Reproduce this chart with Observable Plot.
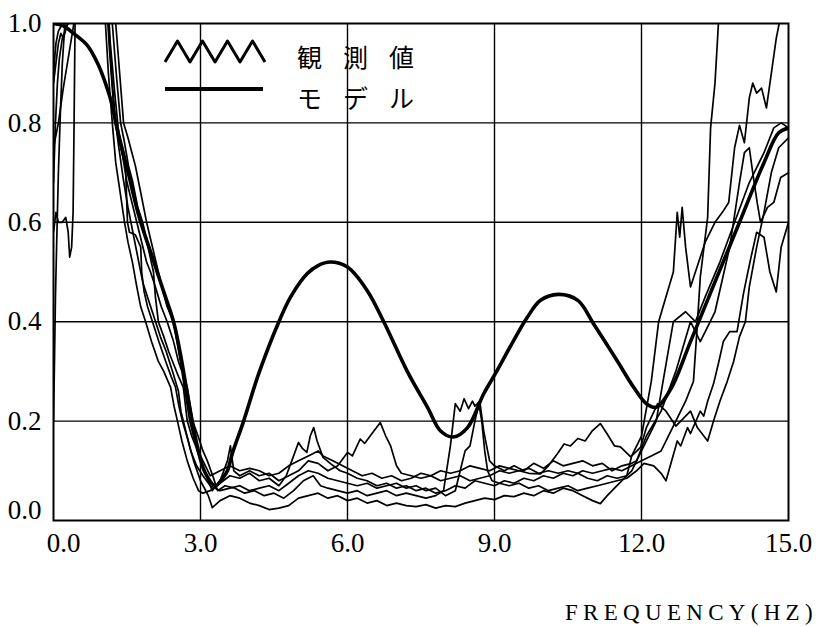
<!DOCTYPE html>
<html>
<head>
<meta charset="utf-8">
<script src="https://cdn.jsdelivr.net/npm/d3@7"></script>
<script src="https://cdn.jsdelivr.net/npm/@observablehq/plot@0.6"></script>
<style>
  html, body { margin: 0; padding: 0; background: #fff; }
  #wrap { position: relative; width: 821px; height: 627px; overflow: hidden; }
  #legend { position: absolute; left: 0; top: 0; }
  .lt { position: absolute; font-family: "Noto Sans CJK JP", sans-serif; font-size: 25px; letter-spacing: 21px; color: #000; line-height: 1; white-space: nowrap; }
  #caption { position: absolute; left: 565px; top: 601px; font-family: "Liberation Serif", "Times New Roman", "DejaVu Serif", serif; font-size: 23px; letter-spacing: 5.3px; color: #000; line-height: 1; white-space: nowrap; }
  svg text { font-family: "Liberation Serif", "Times New Roman", "DejaVu Serif", serif; }
</style>
</head>
<body>
<div id="wrap"></div>
<script>
// ---- data ----
const xTicks = [0, 3, 6, 9, 12, 15];
const yTicks = [0, 0.2, 0.4, 0.6, 0.8, 1.0];
const legendLabels = ["観測値", "モデル"];
const axisTitle = "FREQUENCY(HZ)";

const model = [[0,1.0],[0.2,0.995],[0.41,0.98],[0.69,0.956],[0.9,0.92],[1.06,0.88],[1.2,0.835],[1.27,0.8],[1.5,0.71],[1.75,0.61],[2.04,0.523],[2.25,0.46],[2.45,0.40],[2.6,0.33],[2.73,0.255],[2.94,0.147],[3.1,0.095],[3.3,0.07],[3.45,0.085],[3.55,0.1],[3.65,0.135],[3.88,0.2],[4.19,0.296],[4.6,0.40],[4.84,0.45],[5.18,0.497],[5.4,0.513],[5.65,0.52],[6.0,0.51],[6.4,0.463],[6.74,0.40],[7.22,0.30],[7.63,0.228],[7.9,0.18],[8.16,0.168],[8.45,0.187],[8.78,0.255],[9.02,0.296],[9.39,0.362],[9.67,0.409],[9.94,0.443],[10.3,0.455],[10.7,0.443],[11.02,0.396],[11.5,0.322],[11.84,0.268],[12.1,0.235],[12.3,0.228],[12.6,0.265],[13.0,0.36],[13.5,0.48],[14.0,0.6],[14.5,0.72],[14.8,0.78],[15.0,0.79]];

const obs1 = [[0,0.68],[0.04,0.8],[0.08,0.88],[0.12,0.93],[0.18,0.97],[0.25,0.99],[0.3,1.0],[0.36,1.08],[0.45,1.3],[0.9,1.3],[1.0,1.1],[1.06,1.0],[1.12,0.9],[1.2,0.8],[1.27,0.72],[1.36,0.66],[1.45,0.6],[1.52,0.56],[1.61,0.52],[1.7,0.47],[1.78,0.43],[1.88,0.4],[2.0,0.36],[2.14,0.32],[2.25,0.3],[2.39,0.268],[2.46,0.23],[2.53,0.2],[2.62,0.16],[2.73,0.12],[2.85,0.085],[2.96,0.06],[3.05,0.055],[3.2,0.06],[3.4,0.075],[3.6,0.09],[3.8,0.085],[4.0,0.095],[4.2,0.08],[4.4,0.085],[4.6,0.07],[4.75,0.09],[4.9,0.13],[5.0,0.157],[5.08,0.145],[5.17,0.137],[5.24,0.17],[5.31,0.187],[5.38,0.16],[5.5,0.127],[5.66,0.114],[5.85,0.1],[6.0,0.095],[6.2,0.085],[6.4,0.08],[6.6,0.07],[6.8,0.075],[7.0,0.065],[7.2,0.07],[7.4,0.06],[7.6,0.065],[7.8,0.055],[8.0,0.06],[8.2,0.07],[8.4,0.065],[8.6,0.08],[8.8,0.075],[9.0,0.07],[9.2,0.08],[9.4,0.075],[9.6,0.085],[9.8,0.08],[10.0,0.09],[10.2,0.085],[10.4,0.095],[10.6,0.09],[10.8,0.1],[11.0,0.095],[11.2,0.1],[11.4,0.105],[11.6,0.1],[11.8,0.11],[12.0,0.12],[12.2,0.13],[12.4,0.14],[12.7,0.2],[12.9,0.24],[13.06,0.28],[13.13,0.38],[13.2,0.49],[13.35,0.61],[13.41,0.79],[13.5,0.88],[13.57,1.0],[13.65,1.2],[13.8,1.4],[15,1.4]];

const obs2 = [[0,0.9],[0.05,0.96],[0.1,0.985],[0.16,0.995],[0.22,1.02],[0.3,1.2],[0.5,1.4],[0.95,1.4],[1.05,1.12],[1.12,1.0],[1.2,0.88],[1.27,0.8],[1.37,0.75],[1.47,0.71],[1.51,0.6],[1.55,0.58],[1.67,0.575],[1.78,0.55],[1.8,0.5],[1.85,0.46],[1.92,0.43],[2.02,0.4],[2.15,0.36],[2.29,0.32],[2.4,0.29],[2.49,0.268],[2.56,0.23],[2.63,0.2],[2.75,0.16],[2.86,0.12],[3.0,0.08],[3.16,0.05],[3.24,0.026],[3.4,0.04],[3.6,0.05],[3.8,0.045],[4.0,0.035],[4.2,0.03],[4.4,0.022],[4.6,0.025],[4.8,0.03],[5.0,0.045],[5.2,0.05],[5.4,0.055],[5.6,0.045],[5.8,0.05],[6.0,0.04],[6.2,0.045],[6.4,0.035],[6.6,0.04],[6.8,0.03],[7.0,0.035],[7.2,0.03],[7.4,0.028],[7.6,0.032],[7.8,0.025],[8.0,0.03],[8.2,0.028],[8.4,0.035],[8.6,0.04],[8.8,0.045],[9.0,0.042],[9.2,0.05],[9.4,0.048],[9.6,0.055],[9.8,0.05],[10.0,0.06],[10.2,0.055],[10.4,0.065],[10.6,0.06],[10.8,0.05],[11.0,0.04],[11.16,0.034],[11.3,0.05],[11.5,0.07],[11.7,0.09],[11.8,0.13],[12.0,0.17],[12.2,0.28],[12.35,0.4],[12.5,0.45],[12.65,0.5],[12.73,0.62],[12.78,0.57],[12.83,0.63],[12.9,0.55],[13.0,0.47],[13.1,0.5],[13.3,0.56],[13.5,0.6],[13.65,0.62],[13.78,0.64],[13.9,0.75],[14.0,0.795],[14.1,0.76],[14.2,0.85],[14.27,0.88],[14.35,0.86],[14.45,0.87],[14.55,0.83],[14.65,0.9],[14.75,0.97],[14.85,1.02],[15,1.1]];

const obs3 = [[0,0.58],[0.05,0.62],[0.1,0.6],[0.18,0.6],[0.25,0.61],[0.3,0.58],[0.33,0.53],[0.37,0.55],[0.4,0.62],[0.42,0.8],[0.44,1.0],[0.47,1.3],[1.0,1.4],[1.15,1.1],[1.2,1.0],[1.28,0.9],[1.37,0.8],[1.45,0.76],[1.53,0.714],[1.62,0.68],[1.72,0.63],[1.82,0.6],[1.93,0.55],[2.04,0.5],[2.08,0.45],[2.14,0.4],[2.25,0.37],[2.35,0.34],[2.43,0.32],[2.55,0.29],[2.65,0.268],[2.73,0.2],[2.82,0.17],[2.9,0.15],[3.0,0.12],[3.12,0.09],[3.24,0.06],[3.4,0.08],[3.55,0.12],[3.61,0.15],[3.68,0.1],[3.8,0.09],[4.0,0.1],[4.2,0.09],[4.4,0.095],[4.6,0.08],[4.8,0.09],[5.0,0.1],[5.2,0.12],[5.4,0.115],[5.6,0.1],[5.8,0.11],[6.0,0.137],[6.1,0.13],[6.26,0.164],[6.35,0.155],[6.5,0.175],[6.67,0.197],[6.78,0.17],[6.88,0.15],[7.0,0.11],[7.1,0.095],[7.3,0.09],[7.5,0.085],[7.7,0.09],[7.9,0.08],[8.1,0.085],[8.3,0.09],[8.5,0.08],[8.7,0.085],[8.9,0.09],[9.1,0.1],[9.3,0.095],[9.5,0.1],[9.7,0.105],[9.9,0.095],[10.1,0.1],[10.3,0.095],[10.5,0.1],[10.7,0.095],[10.9,0.085],[11.1,0.08],[11.3,0.09],[11.5,0.085],[11.7,0.09],[11.8,0.1],[12.0,0.14],[12.3,0.2],[12.65,0.4],[12.9,0.42],[13.1,0.4],[13.3,0.45],[13.6,0.52],[13.9,0.6],[14.2,0.68],[14.5,0.74],[14.7,0.79],[14.85,0.8],[15,0.79]];

const obs4 = [[0,0.75],[0.1,0.8],[0.2,0.87],[0.3,0.93],[0.4,0.99],[0.46,1.03],[0.55,1.3],[1.1,1.4],[1.2,1.1],[1.27,1.0],[1.35,0.9],[1.43,0.8],[1.52,0.77],[1.6,0.74],[1.67,0.714],[1.78,0.66],[1.9,0.6],[2.02,0.55],[2.14,0.5],[2.24,0.46],[2.32,0.43],[2.45,0.4],[2.52,0.36],[2.59,0.32],[2.66,0.29],[2.73,0.268],[2.79,0.23],[2.84,0.2],[2.95,0.17],[3.05,0.14],[3.14,0.12],[3.25,0.09],[3.35,0.06],[3.5,0.07],[3.7,0.065],[3.9,0.055],[4.1,0.06],[4.3,0.05],[4.5,0.055],[4.7,0.045],[4.9,0.06],[5.1,0.08],[5.3,0.09],[5.45,0.07],[5.6,0.065],[5.8,0.06],[6.0,0.055],[6.2,0.06],[6.4,0.05],[6.6,0.055],[6.8,0.06],[7.0,0.05],[7.2,0.055],[7.4,0.05],[7.6,0.045],[7.8,0.05],[7.96,0.06],[8.1,0.15],[8.2,0.235],[8.3,0.22],[8.38,0.245],[8.47,0.225],[8.55,0.24],[8.6,0.23],[8.7,0.24],[8.78,0.18],[8.9,0.12],[9.0,0.11],[9.2,0.1],[9.4,0.11],[9.6,0.1],[9.8,0.115],[10.0,0.105],[10.2,0.12],[10.4,0.11],[10.6,0.115],[10.8,0.12],[11.0,0.11],[11.2,0.115],[11.4,0.1],[11.6,0.11],[11.8,0.115],[11.9,0.12],[12.1,0.17],[12.4,0.22],[12.7,0.3],[13.0,0.4],[13.2,0.36],[13.5,0.42],[13.8,0.55],[14.0,0.68],[14.1,0.74],[14.2,0.75],[14.27,0.70],[14.36,0.64],[14.43,0.60],[14.57,0.63],[14.7,0.64],[14.84,0.69],[15,0.70]];

const obs5 = [[0,0.2],[0.02,0.32],[0.04,0.45],[0.07,0.58],[0.1,0.7],[0.14,0.82],[0.18,0.92],[0.22,0.98],[0.26,1.05],[0.32,1.3],[0.95,1.35],[1.08,1.05],[1.14,0.95],[1.23,0.83],[1.32,0.76],[1.42,0.69],[1.52,0.63],[1.62,0.58],[1.72,0.53],[1.82,0.48],[1.95,0.44],[2.05,0.41],[2.18,0.37],[2.3,0.34],[2.43,0.3],[2.55,0.26],[2.6,0.22],[2.7,0.18],[2.8,0.14],[2.92,0.11],[3.05,0.09],[3.2,0.07],[3.4,0.06],[3.6,0.065],[3.8,0.07],[4.0,0.06],[4.2,0.065],[4.4,0.07],[4.6,0.06],[4.8,0.075],[5.0,0.09],[5.2,0.1],[5.4,0.095],[5.6,0.085],[5.8,0.08],[6.0,0.075],[6.2,0.07],[6.4,0.075],[6.6,0.065],[6.8,0.07],[7.0,0.075],[7.2,0.065],[7.4,0.07],[7.6,0.06],[7.8,0.065],[8.0,0.05],[8.2,0.06],[8.3,0.1],[8.4,0.14],[8.5,0.15],[8.6,0.2],[8.68,0.235],[8.74,0.2],[8.8,0.14],[8.86,0.1],[8.95,0.08],[9.1,0.075],[9.3,0.07],[9.5,0.075],[9.7,0.065],[9.9,0.07],[10.1,0.06],[10.3,0.065],[10.5,0.07],[10.7,0.06],[10.9,0.065],[11.1,0.07],[11.3,0.075],[11.5,0.08],[11.7,0.085],[11.9,0.1],[12.05,0.115],[12.25,0.11],[12.4,0.095],[12.5,0.08],[12.73,0.16],[12.8,0.15],[12.94,0.187],[13.0,0.175],[13.2,0.22],[13.27,0.21],[13.35,0.24],[13.47,0.275],[13.57,0.316],[13.67,0.36],[13.8,0.38],[13.95,0.38],[14.08,0.456],[14.15,0.49],[14.22,0.523],[14.35,0.58],[14.5,0.57],[14.62,0.5],[14.75,0.46],[14.85,0.55],[15,0.6]];

const obs6 = [[0,0.88],[0.05,0.92],[0.1,0.96],[0.15,0.98],[0.2,0.97],[0.26,0.99],[0.32,1.02],[0.4,1.2],[1.0,1.3],[1.1,1.06],[1.16,0.96],[1.25,0.86],[1.32,0.79],[1.4,0.74],[1.5,0.68],[1.6,0.64],[1.7,0.6],[1.8,0.56],[1.9,0.52],[1.98,0.5],[2.08,0.47],[2.2,0.43],[2.32,0.4],[2.45,0.36],[2.55,0.32],[2.62,0.3],[2.7,0.25],[2.78,0.2],[2.88,0.16],[3.0,0.13],[3.1,0.11],[3.2,0.09],[3.4,0.1],[3.6,0.11],[3.8,0.1],[4.0,0.105],[4.2,0.1],[4.4,0.09],[4.6,0.095],[4.8,0.11],[5.0,0.12],[5.2,0.13],[5.4,0.14],[5.5,0.13],[5.7,0.12],[5.9,0.11],[6.1,0.1],[6.3,0.09],[6.5,0.095],[6.7,0.085],[6.9,0.09],[7.1,0.08],[7.3,0.085],[7.5,0.095],[7.7,0.09],[7.9,0.1],[8.1,0.095],[8.3,0.1],[8.5,0.11],[8.7,0.105],[8.9,0.1],[9.1,0.11],[9.3,0.105],[9.5,0.1],[9.7,0.095],[9.94,0.094],[10.1,0.11],[10.28,0.134],[10.42,0.154],[10.55,0.15],[10.7,0.165],[10.85,0.16],[11.0,0.181],[11.16,0.195],[11.3,0.174],[11.45,0.15],[11.57,0.148],[11.78,0.128],[11.98,0.147],[12.1,0.187],[12.33,0.235],[12.5,0.22],[12.7,0.19],[13.0,0.22],[13.14,0.187],[13.35,0.16],[13.47,0.2],[13.6,0.24],[13.75,0.28],[13.88,0.32],[14.0,0.37],[14.12,0.4],[14.2,0.47],[14.35,0.55],[14.5,0.62],[14.65,0.7],[14.8,0.75],[15,0.77]];

// ---- build table ----
const observed = [obs1, obs2, obs3, obs4, obs5, obs6].flatMap((s, i) => s.map(([x, y]) => ({x, y, series: "obs" + (i + 1)})));
const modelRows = model.map(([x, y]) => ({x, y}));

const fmt = d => d.toFixed(1);
const serif = "'Liberation Serif', 'Times New Roman', 'DejaVu Serif', serif";

const chart = Plot.plot({
  width: 821,
  height: 575,
  marginTop: 23,
  marginBottom: 55,
  marginLeft: 53,
  marginRight: 33,
  style: {fontFamily: serif, fontSize: "27px", color: "#000", background: "#fff"},
  x: {domain: [0, 15]},
  y: {domain: [0, 1]},
  marks: [
    Plot.gridX(xTicks.slice(1, -1), {stroke: "#000", strokeOpacity: 1, strokeWidth: 1.4}),
    Plot.gridY(yTicks.slice(1, -1), {stroke: "#000", strokeOpacity: 1, strokeWidth: 1.4}),
    Plot.line(observed, {x: "x", y: "y", z: "series", stroke: "#000", strokeWidth: 1.7, clip: true}),
    Plot.line(modelRows, {x: "x", y: "y", stroke: "#000", strokeWidth: 3.6, curve: "catmull-rom", clip: true}),
    Plot.frame({stroke: "#000", strokeWidth: 2}),
    Plot.axisY(yTicks.slice(1), {tickSize: 0, tickPadding: 12, tickFormat: fmt, label: null, fontSize: 27, fontFamily: serif}),
    Plot.axisY(yTicks.slice(0, 1), {tickSize: 0, tickPadding: 12, tickFormat: fmt, label: null, fontSize: 27, fontFamily: serif, dy: -10}),
    Plot.axisX(xTicks.slice(1), {tickSize: 0, tickPadding: 12, tickFormat: fmt, label: null, fontSize: 27, fontFamily: serif}),
    Plot.axisX(xTicks.slice(0, 1), {tickSize: 0, tickPadding: 12, tickFormat: fmt, label: null, fontSize: 27, fontFamily: serif, dx: 10})
  ]
});

const wrap = document.getElementById("wrap");
wrap.appendChild(chart);

// legend overlay (inside plot, upper left)
const ns = "http://www.w3.org/2000/svg";
const lg = document.createElementNS(ns, "svg");
lg.setAttribute("id", "legend");
lg.setAttribute("width", 300);
lg.setAttribute("height", 120);
const zig = document.createElementNS(ns, "polyline");
const pts = [];
for (let i = 0; i <= 8; i++) pts.push([165 + i * 12.5, i % 2 === 0 ? 62 : 41]);
zig.setAttribute("points", pts.map(p => p.join(",")).join(" "));
zig.setAttribute("fill", "none");
zig.setAttribute("stroke", "#000");
zig.setAttribute("stroke-width", 3);
zig.setAttribute("stroke-linejoin", "round");
lg.appendChild(zig);
const ln = document.createElementNS(ns, "line");
ln.setAttribute("x1", 165); ln.setAttribute("x2", 263);
ln.setAttribute("y1", 89); ln.setAttribute("y2", 89);
ln.setAttribute("stroke", "#000");
ln.setAttribute("stroke-width", 4);
lg.appendChild(ln);
wrap.appendChild(lg);

legendLabels.forEach((t, i) => {
  const d = document.createElement("div");
  d.className = "lt";
  d.textContent = t;
  d.style.left = "297px";
  d.style.top = (44 + i * 41) + "px";
  wrap.appendChild(d);
});

const cap = document.createElement("div");
cap.id = "caption";
cap.textContent = axisTitle;
wrap.appendChild(cap);
</script>
</body>
</html>
